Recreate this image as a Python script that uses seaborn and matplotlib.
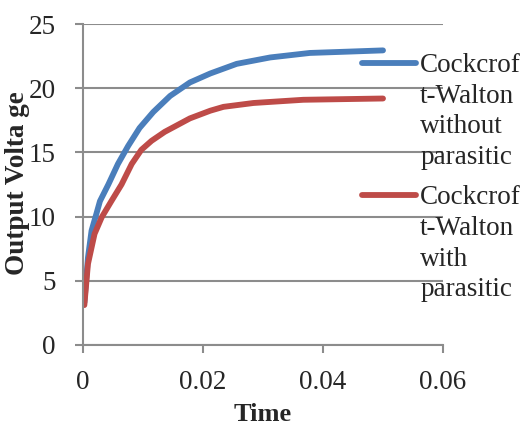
import pandas as pd
import matplotlib
matplotlib.use('Agg')
import matplotlib.pyplot as plt
import seaborn as sns

# Tempo (s) e tensão de saída (V)
tempo_sem = [0.0002, 0.0008, 0.0014, 0.0022, 0.0028, 0.0042, 0.0058, 0.0075, 0.0094,
             0.0117, 0.0145, 0.0178, 0.0212, 0.0256, 0.0312, 0.0378, 0.044, 0.050]
sem_parasita = [3.3, 6.8, 8.9, 10.2, 11.2, 12.5, 14.1, 15.5, 16.9,
                18.15, 19.4, 20.45, 21.15, 21.9, 22.4, 22.75, 22.85, 22.95]
tempo_com = [0.0002, 0.0008, 0.0019, 0.0031, 0.0047, 0.0064, 0.0081, 0.0097, 0.0114,
             0.0136, 0.0156, 0.0178, 0.0212, 0.0234, 0.0284, 0.0367, 0.050]
com_parasita = [3.1, 6.3, 8.65, 9.95, 11.2, 12.5, 14.1, 15.2, 15.9,
                16.6, 17.1, 17.65, 18.25, 18.55, 18.85, 19.1, 19.2]
series = ['Cockcrof\nt-Walton\nwithout\nparasitic', 'Cockcrof\nt-Walton\nwith\nparasitic']
cores = ['#4a7ebb', '#be4b48']

# Montar tabela no formato longo
dados = pd.concat([
    pd.DataFrame({'Time': tempo_sem, 'Output Voltage': sem_parasita, 'Serie': series[0]}),
    pd.DataFrame({'Time': tempo_com, 'Output Voltage': com_parasita, 'Serie': series[1]}),
])

sns.set_style('white')
plt.rcParams['font.family'] = ['Liberation Serif', 'DejaVu Serif']

fig = plt.figure(figsize=(5.23, 4.30), dpi=100)
ax = fig.add_axes([0.159, 0.198, 0.688, 0.746])

sns.lineplot(data=dados, x='Time', y='Output Voltage', hue='Serie',
             palette=dict(zip(series, cores)), linewidth=4.2, ax=ax,
             solid_capstyle='round', solid_joinstyle='round', sort=False)

ax.set_xlim(0, 0.06)
ax.set_ylim(0, 25)
ax.set_xticks([0, 0.02, 0.04, 0.06])
ax.set_xticklabels(['0', '0.02', '0.04', '0.06'])
ax.set_yticks([0, 5, 10, 15, 20, 25])

cinza = '#8c8c8c'
ax.yaxis.grid(True, color=cinza, linewidth=1.5)
ax.set_axisbelow(True)
for lado in ['top', 'right']:
    ax.spines[lado].set_visible(False)
for lado in ['left', 'bottom']:
    ax.spines[lado].set_color(cinza)
    ax.spines[lado].set_linewidth(1.5)
ax.tick_params(axis='both', direction='out', length=6, width=1.5, color=cinza,
               labelsize=19.5, pad=12, left=True, bottom=True)
ax.tick_params(axis='y', pad=14)

# Rótulos dos eixos (o do eixo y fica colado aos números, como no original)
ax.set_xlabel('Time', fontsize=19, fontweight='bold')
ax.set_ylabel('Output Volta ge', fontsize=19.5, fontweight='bold')
ax.xaxis.set_label_coords(0.5, -0.18)
ax.yaxis.set_label_coords(-0.148, 0.503)

leg = ax.legend(loc='upper left', bbox_to_anchor=(0.692, 0.877),
                bbox_transform=fig.transFigure, frameon=False, fontsize=19.5,
                handlelength=2.0, handletextpad=0.15, labelspacing=0.56,
                borderpad=0, borderaxespad=0)
for t in leg.get_texts():
    t.set_linespacing(1.3)
for h in leg.legend_handles:
    h.set_linewidth(4.2)
    h.set_solid_capstyle('round')

# Alinhar a amostra da legenda com a primeira linha do texto
fig.canvas.draw()
r = fig.canvas.get_renderer()
for h, t in zip(leg.legend_handles, leg.get_texts()):
    bb = t.get_window_extent(r)
    passo = bb.height / 4
    alvo = bb.y1 - passo * 0.35
    atual = h.get_window_extent(r)
    atual_y = (atual.y0 + atual.y1) / 2
    y = h.get_ydata()
    h.set_ydata([v + (alvo - atual_y) * 72 / fig.dpi for v in y])

fig.savefig('out.png', dpi=100)
